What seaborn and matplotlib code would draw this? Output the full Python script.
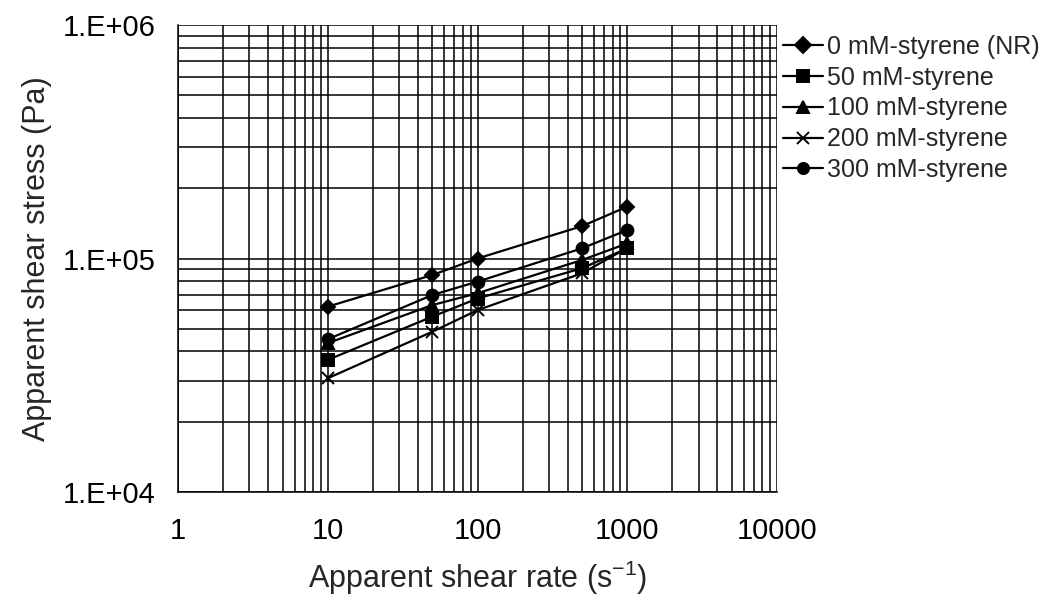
import matplotlib
matplotlib.use("Agg")
import matplotlib.pyplot as plt
import matplotlib.ticker as mticker
import numpy as np
import pandas as pd
import seaborn as sns

shear_rate = [10, 50, 100, 500, 1000]
series_names = ["0 mM-styrene (NR)", "50 mM-styrene", "100 mM-styrene",
                "200 mM-styrene", "300 mM-styrene"]
stress_0 = [62200, 85000, 100000, 137700, 166700]
stress_50 = [36800, 56400, 67400, 90900, 110600]
stress_100 = [43400, 63200, 71000, 98600, 116000]
stress_200 = [30700, 48600, 60100, 86500, 111000]
stress_300 = [45100, 69800, 79600, 110600, 132400]
y_tick_labels = ["1.E+04", "1.E+05", "1.E+06"]
x_tick_labels = ["1", "10", "100", "1000", "10000"]

all_stress = [stress_0, stress_50, stress_100, stress_200, stress_300]
series_markers = ["D", "s", "^", "x", "o"]

sns.set_style("white")
plt.rcParams["font.family"] = ["Liberation Sans", "DejaVu Sans"]
plt.rcParams["mathtext.fontset"] = "custom"
plt.rcParams["mathtext.rm"] = "Liberation Sans"

fig = plt.figure(figsize=(10.46, 5.97), dpi=100)
ax = fig.add_axes([178 / 1046, 1 - 492 / 597, (777 - 178) / 1046, (492 - 25) / 597])

for name, values, mk in zip(series_names, all_stress, series_markers):
    df = pd.DataFrame({"rate": shear_rate, "stress": values})
    sns.lineplot(data=df, x="rate", y="stress", ax=ax, color="black",
                 linewidth=1.6, marker=mk, markersize=8.5 if mk != "D" else 7.5,
                 markeredgecolor="black", markerfacecolor="black",
                 markeredgewidth=1.4, label=name)

ax.set_xscale("log")
ax.set_yscale("log")
ax.set_xlim(1, 10000)
ax.set_ylim(1e4, 1e6)

ax.xaxis.set_major_locator(mticker.FixedLocator([1, 10, 100, 1000, 10000]))
ax.xaxis.set_major_formatter(mticker.FixedFormatter(x_tick_labels))
ax.yaxis.set_major_locator(mticker.FixedLocator([1e4, 1e5, 1e6]))
ax.yaxis.set_major_formatter(mticker.FixedFormatter(y_tick_labels))
ax.xaxis.set_minor_locator(mticker.LogLocator(base=10, subs=np.arange(2, 10)))
ax.yaxis.set_minor_locator(mticker.LogLocator(base=10, subs=np.arange(2, 10)))
ax.xaxis.set_minor_formatter(mticker.NullFormatter())
ax.yaxis.set_minor_formatter(mticker.NullFormatter())

ax.grid(True, which="both", color="black", linewidth=1.1)
ax.set_axisbelow(True)
for s in ax.spines.values():
    s.set_visible(False)
for side in ("left", "bottom"):
    ax.spines[side].set_visible(True)
    ax.spines[side].set_color("black")
    ax.spines[side].set_linewidth(1.1)

ax.tick_params(axis="both", which="major", direction="out", length=7, width=1.0,
               labelsize=21, colors="black")
ax.tick_params(axis="y", which="major", pad=9)
ax.tick_params(axis="x", which="major", pad=11)
ax.tick_params(axis="both", which="minor", length=0)

ax.set_xlabel(r"Apparent shear rate (s$^{\mathrm{-1}}$)", fontsize=22, labelpad=10)
ax.set_ylabel("Apparent shear stress (Pa)", fontsize=22, labelpad=8)

leg = ax.legend(loc="upper left", bbox_to_anchor=(783 / 1046, 1 - 35 / 597),
                bbox_transform=fig.transFigure, frameon=False, fontsize=18,
                handlelength=1.6, handletextpad=0.15, labelspacing=0.27,
                borderaxespad=0, borderpad=0)
for h in leg.legend_handles:
    h.set_markersize(8)
    h.set_linewidth(1.6)

fig.savefig("out.png", dpi=100)
